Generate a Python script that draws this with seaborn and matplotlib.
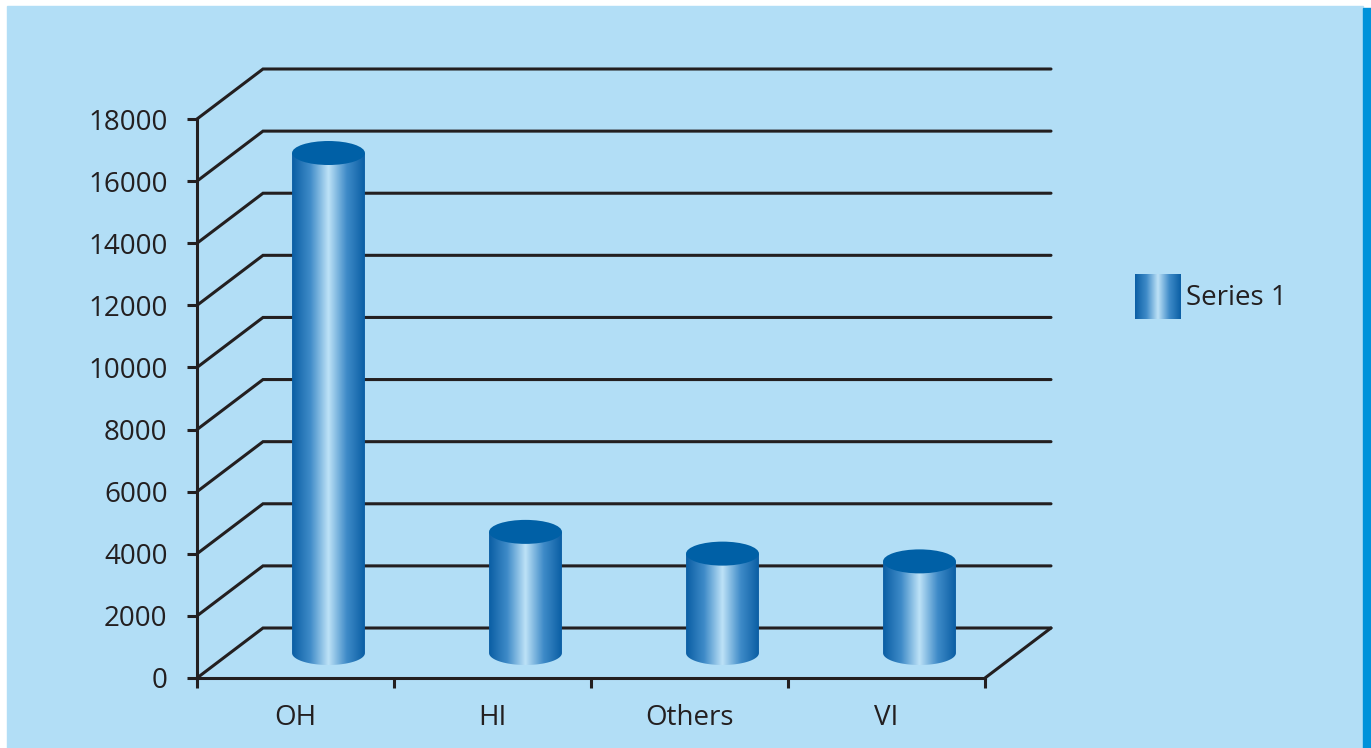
import numpy as np
import pandas as pd
import seaborn as sns
import matplotlib.pyplot as plt
from matplotlib.colors import LinearSegmentedColormap
from matplotlib.patches import Polygon, Ellipse, Rectangle

# %% data
categories = ["OH", "HI", "Others", "VI"]
values = [16100, 3900, 3200, 2950]
yticks = [0, 2000, 4000, 6000, 8000, 10000, 12000, 14000, 16000, 18000]
series_name = "Series 1"

df = pd.DataFrame({"category": categories, "value": values})

# %% style
bg = "#b2def6"
ink = "#231f20"
cyl = LinearSegmentedColormap.from_list(
    "cyl", ["#0a5ea4", "#3f8bc8", "#bde2f7", "#3f8bc8", "#0a5ea4"])
top_col = "#0060a6"

sns.set_theme(style="white")
plt.rcParams["font.family"] = ["Open Sans", "DejaVu Sans"]

W, H = 1371, 748
fig = plt.figure(figsize=(W / 100, H / 100), dpi=100, facecolor="white")
fig.patches.append(Rectangle((7 / W, 0), (1363 - 7) / W, (H - 6) / H,
                             transform=fig.transFigure, color=bg, zorder=-10))
fig.patches.append(Rectangle((1363 / W, 0), 8 / W, (H - 8) / H,
                             transform=fig.transFigure, color="#0092da", zorder=-10))

# front plane of the 3d box: x 197..985 px, y 678..119 px
ax = fig.add_axes([197 / W, 70 / H, 788 / W, 559 / H])
ax.set_facecolor("none")

sns.barplot(data=df, x="category", y="value", width=0.37, ax=ax,
            color=top_col, saturation=1)

ax.set_xlim(-0.5, len(categories) - 0.5)
ax.set_ylim(0, 18000)

# depth of the box in data units (66 px right, 50 px up)
DX = 66 / 197
DY = 50 / (559 / 18000)
ELL = 24 / (559 / 18000)

lw = 2.2
x0, x1 = -0.5, len(categories) - 0.5
for v in yticks:
    ax.plot([x0, x0 + DX, x1 + DX], [v, v + DY, v + DY], color=ink, lw=lw,
            clip_on=False, zorder=1, solid_joinstyle="miter")
ax.plot([x1, x1 + DX], [0, DY], color=ink, lw=lw, clip_on=False, zorder=1)

# turn the flat bars into cylinders half way into the box
grad = cyl(np.linspace(0, 1, 256))[None, :, :]
for bar in list(ax.patches):
    bx = bar.get_x() + DX / 2
    bw = bar.get_width()
    bh = bar.get_height()
    base = DY / 2
    bar.set_visible(False)
    xc = bx + bw / 2
    t = np.linspace(np.pi, 2 * np.pi, 60)
    arc = np.column_stack([xc + bw / 2 * np.cos(t), base + ELL / 2 * np.sin(t)])
    body = np.vstack([arc, [[bx + bw, base + bh], [bx, base + bh]]])
    clip = Polygon(body, closed=True, facecolor="none", edgecolor="none")
    ax.add_patch(clip)
    clip.set_clip_on(False)
    im = ax.imshow(grad, extent=[bx, bx + bw, base - ELL, base + bh],
                   aspect="auto", zorder=3, interpolation="bilinear")
    im.set_clip_path(clip)
    top = Ellipse((xc, base + bh), bw, ELL, facecolor=top_col,
                  edgecolor="none", zorder=4, clip_on=False)
    ax.add_patch(top)

ax.set_xlim(-0.5, len(categories) - 0.5)
ax.set_ylim(0, 18000)

# axes
sns.despine(ax=ax)
for s in ["left", "bottom"]:
    ax.spines[s].set_color(ink)
    ax.spines[s].set_linewidth(lw)
    ax.spines[s].set_zorder(2)
ax.set_yticks(yticks)
ax.set_yticklabels([str(v) for v in yticks])
ax.set_xticks(np.arange(len(categories) + 1) - 0.5)
ax.set_xticklabels([])
ax.set_xticks(np.arange(len(categories)), minor=True)
ax.set_xticklabels(categories, minor=True)
ax.tick_params(axis="both", which="major", direction="out", length=7.2,
               width=lw, color=ink, labelcolor=ink, labelsize=20,
               left=True, bottom=True)
ax.tick_params(axis="y", pad=14)
ax.tick_params(axis="x", which="minor", length=0, pad=19, labelsize=20,
               labelcolor=ink)
ax.set_xlabel("")
ax.set_ylabel("")

# legend swatch
lax = fig.add_axes([1135 / W, (H - 319) / H, 46 / W, 45 / H])
lax.imshow(grad, aspect="auto", interpolation="bilinear")
lax.set_axis_off()
fig.text(1186 / W, (H - 298) / H, series_name, fontsize=20, color=ink,
         va="center", ha="left")

fig.savefig("out.png", dpi=100, facecolor="white")
